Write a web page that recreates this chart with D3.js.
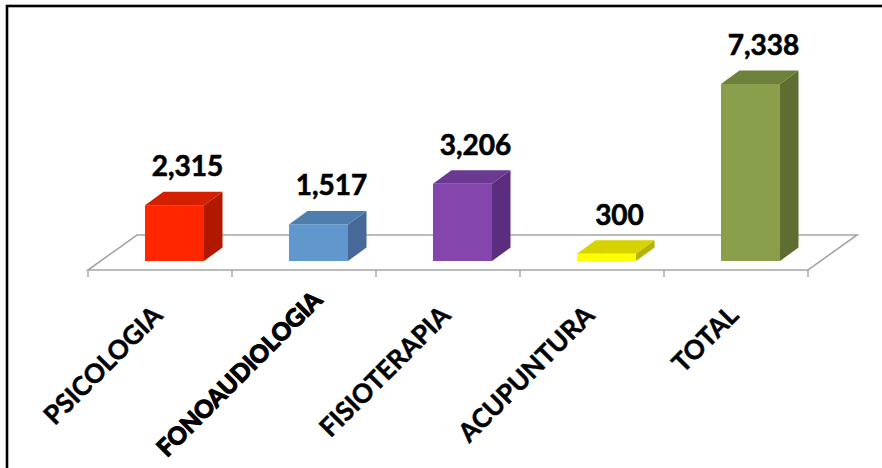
<!DOCTYPE html>
<html><head><meta charset="utf-8">
<script src="https://cdn.jsdelivr.net/npm/d3@7"></script>
<style>html,body{margin:0;padding:0;background:#fff;overflow:hidden}</style>
</head><body>
<svg id="c" width="882" height="468"></svg>
<script>
const categories = ["PSICOLOGIA", "FONOAUDIOLOGIA", "FISIOTERAPIA", "ACUPUNTURA", "TOTAL"];
const values = [2315, 1517, 3206, 300, 7338];
const valueLabels = ["2,315", "1,517", "3,206", "300", "7,338"];
const frontColors = ["#ff2600", "#6097cc", "#8446ac", "#ffff00", "#8a9f4c"];
const topColors   = ["#d22000", "#4f7dae", "#6b3892", "#d6d300", "#6e813a"];
const sideColors  = ["#b21800", "#46699a", "#5b2d7f", "#b5b200", "#5d6e30"];
const yDomainMax = 8000;

const svg = d3.select("#c");
const floorFrontY = 270;
const floorDepth = {dx: 49, dy: -35};
const barShift = {dx: 14.5, dy: -9};
const barDepth = {dx: 18.5, dy: -13.5};

const x = d3.scaleBand().domain(categories).range([88, 808]).paddingInner(0).paddingOuter(0);
const y = d3.scaleLinear().domain([0, yDomainMax]).range([floorFrontY + barShift.dy, floorFrontY + barShift.dy - 193]);
const barW = x.bandwidth() * 0.41;

// border
svg.append("rect").attr("x", 7).attr("y", 6).attr("width", 1000).attr("height", 1000)
  .attr("fill", "none").attr("stroke", "#000").attr("stroke-width", 2.6);

// floor
const [r0, r1] = x.range();
const floor = [[r0, floorFrontY], [r1, floorFrontY], [r1 + floorDepth.dx, floorFrontY + floorDepth.dy], [r0 + floorDepth.dx, floorFrontY + floorDepth.dy]];
svg.append("path").attr("d", "M" + floor.map(p => p.join(",")).join("L") + "Z")
  .attr("fill", "#fff").attr("stroke", "#a6a6a6").attr("stroke-width", 1.6);

// ticks
const tickXs = categories.map(c => x(c)).concat([r1]);
svg.selectAll("line.tick").data(tickXs).join("line").attr("class", "tick")
  .attr("x1", d => d).attr("x2", d => d).attr("y1", floorFrontY).attr("y2", floorFrontY + 7)
  .attr("stroke", "#a6a6a6").attr("stroke-width", 1.4);

// bars
const data = categories.map((c, i) => ({c, v: values[i], i}));
const g = svg.selectAll("g.bar").data(data).join("g").attr("class", "bar");
function fx(d) { return x(d.c) + (x.bandwidth() - barW) / 2 + barShift.dx; }
const base = y(0);
g.append("path").attr("fill", d => sideColors[d.i]).attr("d", d => {
  const x1 = fx(d) + barW, t = y(d.v);
  return `M${x1},${base}L${x1 + barDepth.dx},${base + barDepth.dy}L${x1 + barDepth.dx},${t + barDepth.dy}L${x1},${t}Z`;
});
g.append("path").attr("fill", d => topColors[d.i]).attr("d", d => {
  const x0 = fx(d), t = y(d.v);
  return `M${x0},${t}L${x0 + barW},${t}L${x0 + barW + barDepth.dx},${t + barDepth.dy}L${x0 + barDepth.dx},${t + barDepth.dy}Z`;
});
g.append("rect").attr("fill", d => frontColors[d.i])
  .attr("x", d => fx(d)).attr("y", d => y(d.v)).attr("width", barW).attr("height", d => base - y(d.v));

// value labels
svg.selectAll("text.val").data(data).join("text").attr("class", "val")
  .attr("x", d => fx(d) + barW / 2 + 13).attr("y", d => y(d.v) - 29)
  .attr("text-anchor", "middle").attr("font-family", "Lato").attr("font-weight", 700)
  .attr("font-size", 28).attr("fill", "#000").attr("stroke", "#000").attr("stroke-width", 0.6)
  .text((d, i) => valueLabels[i]);

// category labels
svg.selectAll("text.cat").data(data).join("text").attr("class", "cat")
  .attr("transform", d => {
    const cx = x(d.c) + x.bandwidth() / 2 + 4;
    const shift = d.i === 1 ? 22 : 0;
    return `translate(${cx + shift * 0.707},${317 - shift * 0.707}) rotate(-45)`;
  })
  .attr("text-anchor", "end").attr("font-family", "Lato").attr("font-weight", 700)
  .attr("font-size", d => d.i === 1 ? 24 : 26).attr("fill", "#000")
  .attr("stroke", "#000").attr("stroke-width", d => d.i === 1 ? 1.3 : 0.5)
  .text(d => d.c);
</script>
</body></html>
